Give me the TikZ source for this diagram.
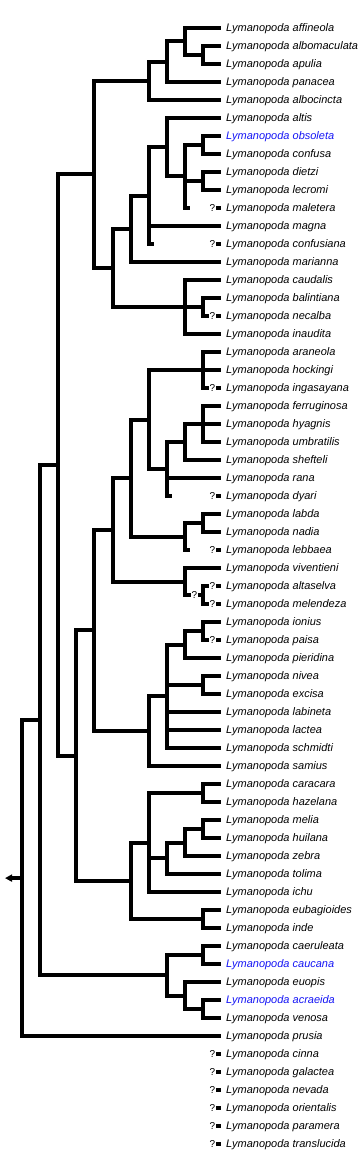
\documentclass[tikz,border=0pt]{standalone}
\usepackage{fontspec}
\setmainfont{Liberation Sans}
\usetikzlibrary{arrows.meta}
\definecolor{taxonblue}{RGB}{20,20,245}

\begin{document}
\begin{tikzpicture}[
    x=1pt, y=-1pt,
    branch/.style={line width=4pt, draw=black},
    taxon/.style={anchor=west, inner xsep=5pt, inner ysep=0pt, text height=8pt, text depth=0.6pt, font=\fontsize{11}{13}\selectfont\itshape},
    hilite/.style={taxon, text=taxonblue},
    nodata/.style={inner xsep=1pt, inner ysep=0pt, text height=7.6pt, text depth=0pt, font=\fontsize{10}{12}\selectfont}
]
\useasboundingbox (0,0) rectangle (360,1155);

% taxa
\node [taxon] (affineola) at (221,28) {Lymanopoda affineola};
\node [taxon] (albomaculata) at (221,46) {Lymanopoda albomaculata};
\node [taxon] (apulia) at (221,64) {Lymanopoda apulia};
\node [taxon] (panacea) at (221,82) {Lymanopoda panacea};
\node [taxon] (albocincta) at (221,100) {Lymanopoda albocincta};
\node [taxon] (altis) at (221,118) {Lymanopoda altis};
\node [hilite] (obsoleta) at (221,136) {Lymanopoda obsoleta};
\node [taxon] (confusa) at (221,154) {Lymanopoda confusa};
\node [taxon] (dietzi) at (221,172) {Lymanopoda dietzi};
\node [taxon] (lecromi) at (221,190) {Lymanopoda lecromi};
\node [taxon] (maletera) at (221,208) {Lymanopoda maletera};
\node [taxon] (magna) at (221,226) {Lymanopoda magna};
\node [taxon] (confusiana) at (221,244) {Lymanopoda confusiana};
\node [taxon] (marianna) at (221,262) {Lymanopoda marianna};
\node [taxon] (caudalis) at (221,280) {Lymanopoda caudalis};
\node [taxon] (balintiana) at (221,298) {Lymanopoda balintiana};
\node [taxon] (necalba) at (221,316) {Lymanopoda necalba};
\node [taxon] (inaudita) at (221,334) {Lymanopoda inaudita};
\node [taxon] (araneola) at (221,352) {Lymanopoda araneola};
\node [taxon] (hockingi) at (221,370) {Lymanopoda hockingi};
\node [taxon] (ingasayana) at (221,388) {Lymanopoda ingasayana};
\node [taxon] (ferruginosa) at (221,406) {Lymanopoda ferruginosa};
\node [taxon] (hyagnis) at (221,424) {Lymanopoda hyagnis};
\node [taxon] (umbratilis) at (221,442) {Lymanopoda umbratilis};
\node [taxon] (shefteli) at (221,460) {Lymanopoda shefteli};
\node [taxon] (rana) at (221,478) {Lymanopoda rana};
\node [taxon] (dyari) at (221,496) {Lymanopoda dyari};
\node [taxon] (labda) at (221,514) {Lymanopoda labda};
\node [taxon] (nadia) at (221,532) {Lymanopoda nadia};
\node [taxon] (lebbaea) at (221,550) {Lymanopoda lebbaea};
\node [taxon] (viventieni) at (221,568) {Lymanopoda viventieni};
\node [taxon] (altaselva) at (221,586) {Lymanopoda altaselva};
\node [taxon] (melendeza) at (221,604) {Lymanopoda melendeza};
\node [taxon] (ionius) at (221,622) {Lymanopoda ionius};
\node [taxon] (paisa) at (221,640) {Lymanopoda paisa};
\node [taxon] (pieridina) at (221,658) {Lymanopoda pieridina};
\node [taxon] (nivea) at (221,676) {Lymanopoda nivea};
\node [taxon] (excisa) at (221,694) {Lymanopoda excisa};
\node [taxon] (labineta) at (221,712) {Lymanopoda labineta};
\node [taxon] (lactea) at (221,730) {Lymanopoda lactea};
\node [taxon] (schmidti) at (221,748) {Lymanopoda schmidti};
\node [taxon] (samius) at (221,766) {Lymanopoda samius};
\node [taxon] (caracara) at (221,784) {Lymanopoda caracara};
\node [taxon] (hazelana) at (221,802) {Lymanopoda hazelana};
\node [taxon] (melia) at (221,820) {Lymanopoda melia};
\node [taxon] (huilana) at (221,838) {Lymanopoda huilana};
\node [taxon] (zebra) at (221,856) {Lymanopoda zebra};
\node [taxon] (tolima) at (221,874) {Lymanopoda tolima};
\node [taxon] (ichu) at (221,892) {Lymanopoda ichu};
\node [taxon] (eubagioides) at (221,910) {Lymanopoda eubagioides};
\node [taxon] (inde) at (221,928) {Lymanopoda inde};
\node [taxon] (caeruleata) at (221,946) {Lymanopoda caeruleata};
\node [hilite] (caucana) at (221,964) {Lymanopoda caucana};
\node [taxon] (euopis) at (221,982) {Lymanopoda euopis};
\node [hilite] (acraeida) at (221,1000) {Lymanopoda acraeida};
\node [taxon] (venosa) at (221,1018) {Lymanopoda venosa};
\node [taxon] (prusia) at (221,1036) {Lymanopoda prusia};
\node [taxon] (cinna) at (221,1054) {Lymanopoda cinna};
\node [taxon] (galactea) at (221,1072) {Lymanopoda galactea};
\node [taxon] (nevada) at (221,1090) {Lymanopoda nevada};
\node [taxon] (orientalis) at (221,1108) {Lymanopoda orientalis};
\node [taxon] (paramera) at (221,1126) {Lymanopoda paramera};
\node [taxon] (translucida) at (221,1144) {Lymanopoda translucida};

% missing data marks
\node [nodata] (maletera-q) at (212.5,208) {?};
\node [nodata] (confusiana-q) at (212.5,244) {?};
\node [nodata] (necalba-q) at (212.5,316) {?};
\node [nodata] (ingasayana-q) at (212.5,388) {?};
\node [nodata] (dyari-q) at (212.5,496) {?};
\node [nodata] (lebbaea-q) at (212.5,550) {?};
\node [nodata] (altaselva-q) at (212.5,586) {?};
\node [nodata] (melendeza-q) at (212.5,604) {?};
\node [nodata] (paisa-q) at (212.5,640) {?};
\node [nodata] (cinna-q) at (212.5,1054) {?};
\node [nodata] (galactea-q) at (212.5,1072) {?};
\node [nodata] (nevada-q) at (212.5,1090) {?};
\node [nodata] (orientalis-q) at (212.5,1108) {?};
\node [nodata] (paramera-q) at (212.5,1126) {?};
\node [nodata] (translucida-q) at (212.5,1144) {?};
\node [nodata] (vq) at (194.5,595) {?};

% clades
\coordinate (root) at (22,878.1);
\coordinate (root-tip) at (5,878.1);
\coordinate (t3) at (40.1,720.1);
\coordinate (t2) at (58.2,465);
\coordinate (m2) at (76.3,755.6);
\coordinate (t1) at (94.4,174.4);
\coordinate (a4) at (148.7,80.9);
\coordinate (a3) at (166.8,61.75);
\coordinate (a2) at (184.9,41.5);
\coordinate (a1) at (203,55);
\coordinate (o6) at (112.5,267.9);
\coordinate (o5) at (130.6,228.8);
\coordinate (o4) at (148.7,195.6);
\coordinate (o3) at (166.8,147.25);
\coordinate (o2) at (184.9,176.5);
\coordinate (o1) at (203,145);
\coordinate (d1) at (203,181);
\coordinate (b2) at (184.9,307);
\coordinate (b1) at (203,307);
\coordinate (m1) at (94.4,630.4);
\coordinate (r4) at (112.5,529.75);
\coordinate (r3) at (130.6,478);
\coordinate (r2) at (148.7,419.5);
\coordinate (r1) at (203,370);
\coordinate (f3) at (166.8,469);
\coordinate (f2) at (184.9,442);
\coordinate (f1) at (203,424);
\coordinate (l2) at (184.9,536.5);
\coordinate (l1) at (203,523);
\coordinate (v2) at (184.9,581.5);
\coordinate (v1) at (203,595);
\coordinate (i4) at (148.7,731.1);
\coordinate (i3) at (166.8,696.25);
\coordinate (i2) at (184.9,644.5);
\coordinate (i1) at (203,631);
\coordinate (n1) at (203,685);
\coordinate (c3) at (130.6,880.75);
\coordinate (c2) at (148.7,842.5);
\coordinate (c1) at (203,793);
\coordinate (h3) at (166.8,858.25);
\coordinate (h2) at (184.9,842.5);
\coordinate (h1) at (203,829);
\coordinate (e1) at (203,919);
\coordinate (k4) at (166.8,975.25);
\coordinate (k3) at (184.9,995.5);
\coordinate (k2) at (203,1009);
\coordinate (k1) at (203,955);

% stubs
\coordinate (maletera-s) at (190.4,208);
\coordinate (confusiana-s) at (154.2,244);
\coordinate (necalba-s) at (208.5,316);
\coordinate (ingasayana-s) at (208.5,388);
\coordinate (dyari-s) at (172.3,496);
\coordinate (lebbaea-s) at (190.4,550);
\coordinate (altaselva-s) at (208.5,586);
\coordinate (melendeza-s) at (208.5,604);
\coordinate (paisa-s) at (208.5,640);

% branches
\draw [branch, -{Triangle[length=7pt,width=7pt]}] (root) -- (root-tip);
\draw [branch] (root) |- (t3) (root) |- (prusia);
\draw [branch] (t3) |- (t2) (t3) |- (k4);
\draw [branch] (t2) |- (t1) (t2) |- (m2);
\draw [branch] (t1) |- (a4) (t1) |- (o6);
\draw [branch] (a4) |- (a3) (a4) |- (albocincta);
\draw [branch] (a3) |- (a2) (a3) |- (panacea);
\draw [branch] (a2) |- (affineola) (a2) |- (a1);
\draw [branch] (a1) |- (albomaculata) (a1) |- (apulia);
\draw [branch] (o6) |- (o5) (o6) |- (b2);
\draw [branch] (o5) |- (o4) (o5) |- (marianna);
\draw [branch] (o4) |- (o3) (o4) |- (magna) (o4) |- (confusiana-s);
\draw [branch] (o3) |- (altis) (o3) |- (o2);
\draw [branch] (o2) |- (o1) (o2) |- (d1) (o2) |- (maletera-s);
\draw [branch] (o1) |- (obsoleta) (o1) |- (confusa);
\draw [branch] (d1) |- (dietzi) (d1) |- (lecromi);
\draw [branch] (b2) |- (caudalis) (b2) -- (b1) (b2) |- (inaudita);
\draw [branch] (b1) |- (balintiana) (b1) |- (necalba-s);
\draw [branch] (m2) |- (m1) (m2) |- (c3);
\draw [branch] (m1) |- (r4) (m1) |- (i4);
\draw [branch] (r4) |- (r3) (r4) |- (v2);
\draw [branch] (r3) |- (r2) (r3) |- (l2);
\draw [branch] (r2) |- (r1) (r2) |- (f3);
\draw [branch] (r1) |- (araneola) (r1) -- (hockingi) (r1) |- (ingasayana-s);
\draw [branch] (f3) |- (f2) (f3) |- (rana) (f3) |- (dyari-s);
\draw [branch] (f2) |- (f1) (f2) |- (shefteli);
\draw [branch] (f1) |- (ferruginosa) (f1) -- (hyagnis) (f1) |- (umbratilis);
\draw [branch] (l2) |- (l1) (l2) |- (lebbaea-s);
\draw [branch] (l1) |- (labda) (l1) |- (nadia);
\draw [branch] (v2) |- (viventieni) (v2) |- (vq);
\draw [branch] (vq) -- (v1);
\draw [branch] (v1) |- (altaselva-s) (v1) |- (melendeza-s);
\draw [branch] (i4) |- (i3) (i4) |- (samius);
\draw [branch] (i3) |- (i2) (i3) |- (n1) (i3) |- (labineta) (i3) |- (lactea) (i3) |- (schmidti);
\draw [branch] (i2) |- (i1) (i2) |- (pieridina);
\draw [branch] (i1) |- (ionius) (i1) |- (paisa-s);
\draw [branch] (n1) |- (nivea) (n1) |- (excisa);
\draw [branch] (c3) |- (c2) (c3) |- (e1);
\draw [branch] (c2) |- (c1) (c2) |- (h3) (c2) |- (ichu);
\draw [branch] (c1) |- (caracara) (c1) |- (hazelana);
\draw [branch] (h3) |- (h2) (h3) |- (tolima);
\draw [branch] (h2) |- (h1) (h2) |- (zebra);
\draw [branch] (h1) |- (melia) (h1) |- (huilana);
\draw [branch] (e1) |- (eubagioides) (e1) |- (inde);
\draw [branch] (k4) |- (k1) (k4) |- (k3);
\draw [branch] (k1) |- (caeruleata) (k1) |- (caucana);
\draw [branch] (k3) |- (euopis) (k3) |- (k2);
\draw [branch] (k2) |- (acraeida) (k2) |- (venosa);

% dashes after missing data marks
\draw [branch] (maletera-q) -- (maletera);
\draw [branch] (confusiana-q) -- (confusiana);
\draw [branch] (necalba-q) -- (necalba);
\draw [branch] (ingasayana-q) -- (ingasayana);
\draw [branch] (dyari-q) -- (dyari);
\draw [branch] (lebbaea-q) -- (lebbaea);
\draw [branch] (altaselva-q) -- (altaselva);
\draw [branch] (melendeza-q) -- (melendeza);
\draw [branch] (paisa-q) -- (paisa);
\draw [branch] (cinna-q) -- (cinna);
\draw [branch] (galactea-q) -- (galactea);
\draw [branch] (nevada-q) -- (nevada);
\draw [branch] (orientalis-q) -- (orientalis);
\draw [branch] (paramera-q) -- (paramera);
\draw [branch] (translucida-q) -- (translucida);
\end{tikzpicture}
\end{document}
